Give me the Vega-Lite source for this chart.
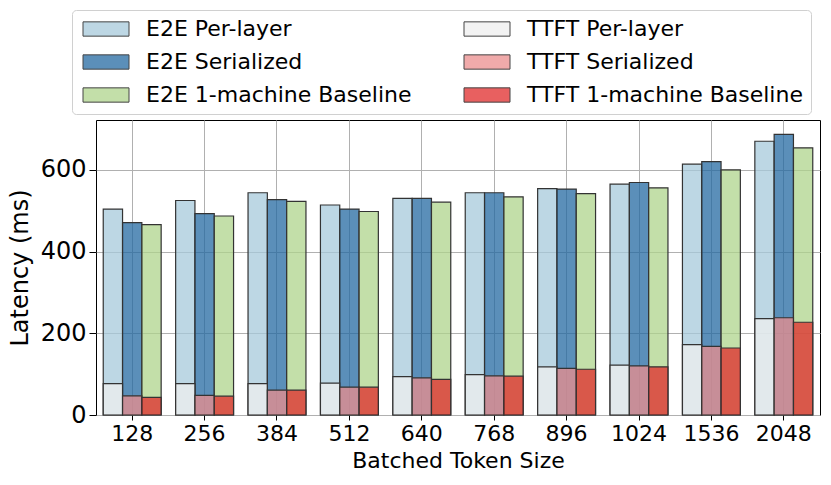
{
  "$schema": "https://vega.github.io/schema/vega-lite/v6.json",
  "autosize": {"type": "none"},
  "padding": {"left": 96, "top": 120, "right": 11, "bottom": 70},
  "width": 724,
  "height": 295,
  "config": {
    "font": "DejaVu Sans",
    "view": {"stroke": "#000000", "strokeWidth": 1},
    "axis": {"gridColor": "#b0b0b0", "gridWidth": 1, "gridOpacity": 1, "domain": false, "tickColor": "#000000", "labelColor": "#000000", "titleColor": "#000000", "titleFontWeight": "normal"}
  },
  "data": {
    "values": [
      {"size": "128", "metric": "E2E", "variant": "Per-layer", "series": "E2E Per-layer", "value": 504},
      {"size": "128", "metric": "E2E", "variant": "Serialized", "series": "E2E Serialized", "value": 471},
      {"size": "128", "metric": "E2E", "variant": "1-machine Baseline", "series": "E2E 1-machine Baseline", "value": 466},
      {"size": "256", "metric": "E2E", "variant": "Per-layer", "series": "E2E Per-layer", "value": 525},
      {"size": "256", "metric": "E2E", "variant": "Serialized", "series": "E2E Serialized", "value": 493},
      {"size": "256", "metric": "E2E", "variant": "1-machine Baseline", "series": "E2E 1-machine Baseline", "value": 487},
      {"size": "384", "metric": "E2E", "variant": "Per-layer", "series": "E2E Per-layer", "value": 544},
      {"size": "384", "metric": "E2E", "variant": "Serialized", "series": "E2E Serialized", "value": 527},
      {"size": "384", "metric": "E2E", "variant": "1-machine Baseline", "series": "E2E 1-machine Baseline", "value": 523},
      {"size": "512", "metric": "E2E", "variant": "Per-layer", "series": "E2E Per-layer", "value": 514},
      {"size": "512", "metric": "E2E", "variant": "Serialized", "series": "E2E Serialized", "value": 504},
      {"size": "512", "metric": "E2E", "variant": "1-machine Baseline", "series": "E2E 1-machine Baseline", "value": 498},
      {"size": "640", "metric": "E2E", "variant": "Per-layer", "series": "E2E Per-layer", "value": 530},
      {"size": "640", "metric": "E2E", "variant": "Serialized", "series": "E2E Serialized", "value": 530},
      {"size": "640", "metric": "E2E", "variant": "1-machine Baseline", "series": "E2E 1-machine Baseline", "value": 521},
      {"size": "768", "metric": "E2E", "variant": "Per-layer", "series": "E2E Per-layer", "value": 544},
      {"size": "768", "metric": "E2E", "variant": "Serialized", "series": "E2E Serialized", "value": 544},
      {"size": "768", "metric": "E2E", "variant": "1-machine Baseline", "series": "E2E 1-machine Baseline", "value": 534},
      {"size": "896", "metric": "E2E", "variant": "Per-layer", "series": "E2E Per-layer", "value": 554},
      {"size": "896", "metric": "E2E", "variant": "Serialized", "series": "E2E Serialized", "value": 553},
      {"size": "896", "metric": "E2E", "variant": "1-machine Baseline", "series": "E2E 1-machine Baseline", "value": 542},
      {"size": "1024", "metric": "E2E", "variant": "Per-layer", "series": "E2E Per-layer", "value": 565},
      {"size": "1024", "metric": "E2E", "variant": "Serialized", "series": "E2E Serialized", "value": 569},
      {"size": "1024", "metric": "E2E", "variant": "1-machine Baseline", "series": "E2E 1-machine Baseline", "value": 556},
      {"size": "1536", "metric": "E2E", "variant": "Per-layer", "series": "E2E Per-layer", "value": 614},
      {"size": "1536", "metric": "E2E", "variant": "Serialized", "series": "E2E Serialized", "value": 620},
      {"size": "1536", "metric": "E2E", "variant": "1-machine Baseline", "series": "E2E 1-machine Baseline", "value": 600},
      {"size": "2048", "metric": "E2E", "variant": "Per-layer", "series": "E2E Per-layer", "value": 670},
      {"size": "2048", "metric": "E2E", "variant": "Serialized", "series": "E2E Serialized", "value": 687},
      {"size": "2048", "metric": "E2E", "variant": "1-machine Baseline", "series": "E2E 1-machine Baseline", "value": 654},
      {"size": "128", "metric": "TTFT", "variant": "Per-layer", "series": "TTFT Per-layer", "value": 77},
      {"size": "128", "metric": "TTFT", "variant": "Serialized", "series": "TTFT Serialized", "value": 47},
      {"size": "128", "metric": "TTFT", "variant": "1-machine Baseline", "series": "TTFT 1-machine Baseline", "value": 43},
      {"size": "256", "metric": "TTFT", "variant": "Per-layer", "series": "TTFT Per-layer", "value": 77},
      {"size": "256", "metric": "TTFT", "variant": "Serialized", "series": "TTFT Serialized", "value": 48},
      {"size": "256", "metric": "TTFT", "variant": "1-machine Baseline", "series": "TTFT 1-machine Baseline", "value": 46},
      {"size": "384", "metric": "TTFT", "variant": "Per-layer", "series": "TTFT Per-layer", "value": 77},
      {"size": "384", "metric": "TTFT", "variant": "Serialized", "series": "TTFT Serialized", "value": 61},
      {"size": "384", "metric": "TTFT", "variant": "1-machine Baseline", "series": "TTFT 1-machine Baseline", "value": 61},
      {"size": "512", "metric": "TTFT", "variant": "Per-layer", "series": "TTFT Per-layer", "value": 78},
      {"size": "512", "metric": "TTFT", "variant": "Serialized", "series": "TTFT Serialized", "value": 68},
      {"size": "512", "metric": "TTFT", "variant": "1-machine Baseline", "series": "TTFT 1-machine Baseline", "value": 68},
      {"size": "640", "metric": "TTFT", "variant": "Per-layer", "series": "TTFT Per-layer", "value": 94},
      {"size": "640", "metric": "TTFT", "variant": "Serialized", "series": "TTFT Serialized", "value": 91},
      {"size": "640", "metric": "TTFT", "variant": "1-machine Baseline", "series": "TTFT 1-machine Baseline", "value": 87},
      {"size": "768", "metric": "TTFT", "variant": "Per-layer", "series": "TTFT Per-layer", "value": 99},
      {"size": "768", "metric": "TTFT", "variant": "Serialized", "series": "TTFT Serialized", "value": 96},
      {"size": "768", "metric": "TTFT", "variant": "1-machine Baseline", "series": "TTFT 1-machine Baseline", "value": 95},
      {"size": "896", "metric": "TTFT", "variant": "Per-layer", "series": "TTFT Per-layer", "value": 118},
      {"size": "896", "metric": "TTFT", "variant": "Serialized", "series": "TTFT Serialized", "value": 114},
      {"size": "896", "metric": "TTFT", "variant": "1-machine Baseline", "series": "TTFT 1-machine Baseline", "value": 112},
      {"size": "1024", "metric": "TTFT", "variant": "Per-layer", "series": "TTFT Per-layer", "value": 122},
      {"size": "1024", "metric": "TTFT", "variant": "Serialized", "series": "TTFT Serialized", "value": 120},
      {"size": "1024", "metric": "TTFT", "variant": "1-machine Baseline", "series": "TTFT 1-machine Baseline", "value": 118},
      {"size": "1536", "metric": "TTFT", "variant": "Per-layer", "series": "TTFT Per-layer", "value": 172},
      {"size": "1536", "metric": "TTFT", "variant": "Serialized", "series": "TTFT Serialized", "value": 168},
      {"size": "1536", "metric": "TTFT", "variant": "1-machine Baseline", "series": "TTFT 1-machine Baseline", "value": 164},
      {"size": "2048", "metric": "TTFT", "variant": "Per-layer", "series": "TTFT Per-layer", "value": 236},
      {"size": "2048", "metric": "TTFT", "variant": "Serialized", "series": "TTFT Serialized", "value": 238},
      {"size": "2048", "metric": "TTFT", "variant": "1-machine Baseline", "series": "TTFT 1-machine Baseline", "value": 227}
    ]
  },
  "encoding": {
    "x": {
      "field": "size", "type": "nominal",
      "sort": ["128", "256", "384", "512", "640", "768", "896", "1024", "1536", "2048"],
      "scale": {"paddingInner": 0.2, "paddingOuter": 0.1},
      "axis": {"title": "Batched Token Size", "titleFontSize": 22, "titlePadding": 6, "labelFontSize": 22, "labelAngle": 0, "tickSize": 5, "labelPadding": 3, "grid": true, "bandPosition": 0.5}
    },
    "xOffset": {"field": "variant", "type": "nominal", "sort": ["Per-layer", "Serialized", "1-machine Baseline"]},
    "y": {
      "field": "value", "type": "quantitative", "stack": null,
      "scale": {"domain": [0, 722], "nice": false},
      "axis": {"title": "Latency (ms)", "titleFontSize": 24, "titlePadding": 8, "labelFontSize": 24, "values": [0, 200, 400, 600], "tickSize": 7, "labelPadding": 3, "grid": true}
    },
    "color": {
      "field": "series", "type": "nominal",
      "scale": {
        "domain": ["E2E Per-layer", "E2E Serialized", "E2E 1-machine Baseline", "TTFT Per-layer", "TTFT Serialized", "TTFT 1-machine Baseline"],
        "range": ["#a7cadb", "#246aa2", "#afd48c", "#efefef", "#eb8e8e", "#e02b2b"]
      },
      "legend": {
        "orient": "none", "legendX": -24, "legendY": -110, "columns": 2, "title": null,
        "labelFontSize": 22, "labelColor": "#000000", "labelLimit": 500,
        "symbolType": "M-1,-0.894L4.75,-0.894L4.75,0.894L-1,0.894Z", "symbolSize": 256,
        "symbolStrokeColor": "#444444", "symbolStrokeWidth": 1,
        "labelOffset": 44, "rowPadding": 11, "columnPadding": 49, "padding": 8,
        "strokeColor": "#d0d0d0", "fillColor": "#ffffff", "cornerRadius": 4,
        "encode": {"symbols": {"update": {"fillOpacity": {"value": 0.75}}}}
      }
    }
  },
  "layer": [
    {
      "transform": [{"filter": "datum.metric === 'E2E'"}],
      "mark": {"type": "bar", "fillOpacity": 0.75, "stroke": "#333333", "strokeWidth": 1.2}
    },
    {
      "transform": [{"filter": "datum.metric === 'TTFT'"}],
      "mark": {"type": "bar", "fillOpacity": 0.75, "stroke": "#333333", "strokeWidth": 1.2}
    }
  ]
}
